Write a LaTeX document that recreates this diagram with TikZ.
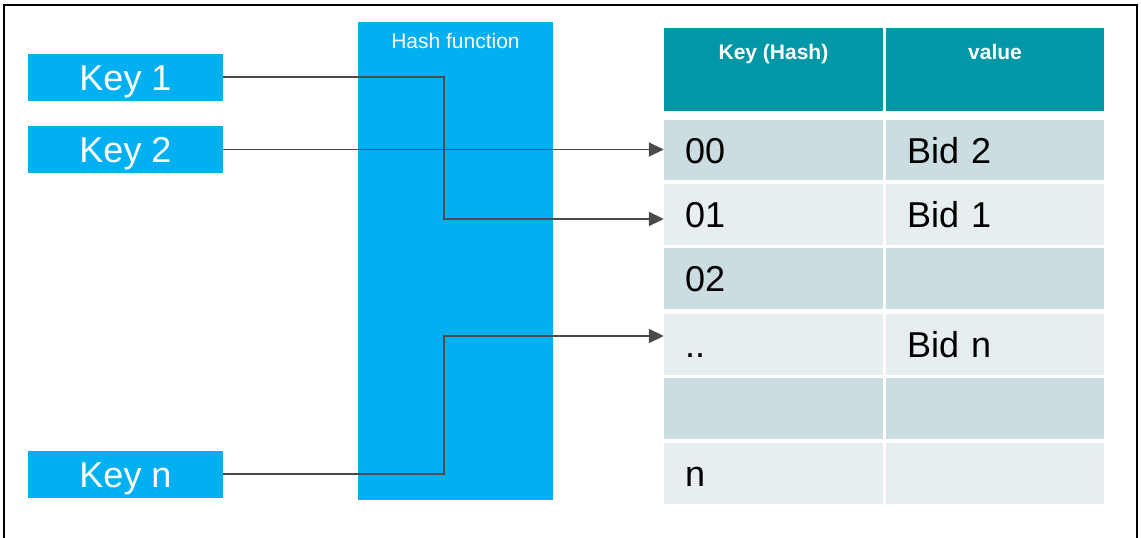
\documentclass[tikz,border=0pt]{standalone}
\usepackage{fontspec}
\setmainfont{Liberation Sans}
\usetikzlibrary{arrows.meta,calc}
\definecolor{keycyan}{HTML}{00B0F0}
\definecolor{hdrteal}{HTML}{0097A7}
\definecolor{rowdark}{HTML}{CBDDE1}
\definecolor{rowlight}{HTML}{E6EEF0}
\definecolor{conncol}{HTML}{4A4A4A}
\begin{document}
\begin{tikzpicture}[x=1pt,y=-1pt,
  keybox/.style={fill=keycyan, text=white, minimum width=195pt, minimum height=47pt,
    inner sep=0pt, font=\fontsize{36}{36}\selectfont, text height=26pt, text depth=0pt},
  hashbox/.style={fill=keycyan, minimum width=195pt, minimum height=478pt, inner sep=0pt},
  hashlabel/.style={text=white, font=\fontsize{21}{21}\selectfont, inner sep=0pt},
  hdrcell/.style={fill=hdrteal, minimum height=83pt, inner sep=0pt},
  hdrlabel/.style={text=white, font=\bfseries\fontsize{21}{21}\selectfont, inner sep=0pt},
  keycell/.style={text width=177pt, inner xsep=21pt, inner ysep=0pt, align=left,
    minimum height=61pt, text height=26pt, text depth=0pt, font=\fontsize{36}{36}\selectfont},
  valcell/.style={keycell, text width=176pt},
  conn/.style={draw=conncol, line width=1.9pt, -{Triangle[length=15pt,width=14pt]}}
]
\useasboundingbox (0,0) rectangle (1141,538);
% frame
\draw[line width=2pt, black] (4,545) -- (4,5) -- (1137,5) -- (1137,545);

% keys
\node[keybox] (k1) at (125.5,77) {Key 1};
\node[keybox] (k2) at (125.5,149.5) {Key 2};
\node[keybox] (kn) at (125.5,474) {Key n};

% hash function
\node[hashbox] (hash) at (455.5,261) {};
\node[hashlabel, anchor=base] (hashtxt) at ($(hash.north)+(0,27)$) {Hash function};

% table header
\node[hdrcell, minimum width=219pt] (hk) at (773.5,69.5) {};
\node[hdrcell, minimum width=218pt] (hv) at (995,69.5) {};
\node[hdrlabel, anchor=base] (hktxt) at (773.5,59) {Key (Hash)};
\node[hdrlabel, anchor=base] (hvtxt) at (995,59) {value};

% table rows
\node[keycell, fill=rowdark, minimum height=60pt] (r00) at (773.5,150) {00};
\node[valcell, fill=rowdark, minimum height=60pt] (v00) at (995,150) {Bid 2};
\node[keycell, fill=rowlight] (r01) at (773.5,214) {01};
\node[valcell, fill=rowlight] (v01) at (995,214) {Bid 1};
\node[keycell, fill=rowdark] (r02) at (773.5,278.5) {02};
\node[valcell, fill=rowdark] (v02) at (995,278.5) {};
\node[keycell, fill=rowlight] (r03) at (773.5,344) {..};
\node[valcell, fill=rowlight] (v03) at (995,344) {Bid n};
\node[keycell, fill=rowdark] (r04) at (773.5,408.5) {};
\node[valcell, fill=rowdark] (v04) at (995,408.5) {};
\node[keycell, fill=rowlight] (r05) at (773.5,473.5) {n};
\node[valcell, fill=rowlight] (v05) at (995,473.5) {};

% connectors
\coordinate (j1) at (444,219);
\coordinate (jn) at (444,336);
\draw[conn] (k1.east) -| (j1) -- (j1 -| r01.west);
\draw[conn] (k2.east) -- (k2.east -| r00.west);
\draw[conn] (kn.east) -| (jn) -- (jn -| r03.west);
\end{tikzpicture}
\end{document}
